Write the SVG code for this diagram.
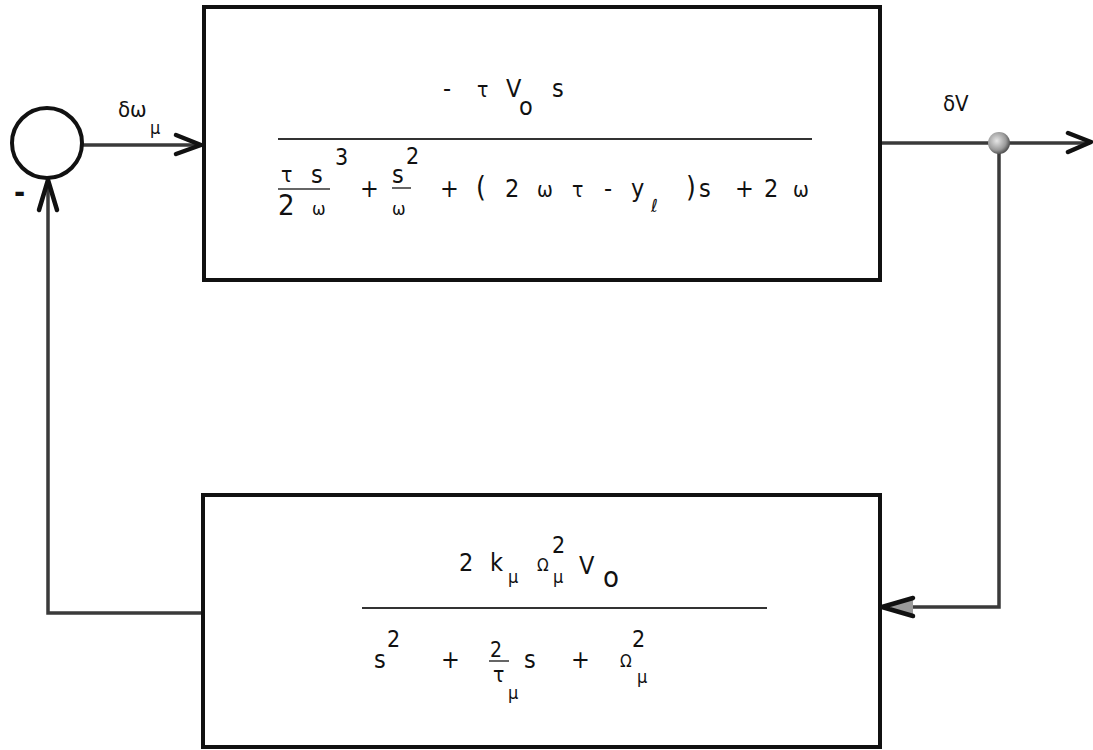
<svg xmlns="http://www.w3.org/2000/svg" width="1093" height="750" viewBox="0 0 1093 750">
<defs>
<style>
.t{font-family:"Liberation Sans Narrow","DejaVu Sans Condensed","Liberation Sans","DejaVu Sans",sans-serif;fill:#111;font-size:25px}
.s{font-size:21px}
.sup{font-size:23px}
.xs{font-size:18px}
.box{fill:none;stroke:#111;stroke-width:4}
.frac{stroke:#333;stroke-width:2}
.sfrac{stroke:#333;stroke-width:1.5}
.wire{fill:none;stroke:#3a3a3a;stroke-width:3.5}
.head{fill:none;stroke:#111;stroke-width:4.5;stroke-linecap:round;stroke-linejoin:round}
</style>
<radialGradient id="ball" cx="0.4" cy="0.4" r="0.6">
<stop offset="0" stop-color="#e6e6e6"/>
<stop offset="0.7" stop-color="#9a9a9a"/>
<stop offset="1" stop-color="#555"/>
</radialGradient>
</defs>
<rect width="1093" height="750" fill="#fff"/>

<g id="connectors">
<line class="wire" x1="82" y1="145" x2="201" y2="145"/>
<polyline class="head" points="176,135 201,145 176,154"/>
<line class="wire" x1="880" y1="143" x2="1090" y2="143"/>
<polyline class="head" points="1068,133 1091,142 1068,152"/>
<polyline class="wire" points="999,152 999,607 884,607"/>
<polygon points="882,607 913,598 913,616" fill="#9a9a9a"/>
<polyline class="head" points="913,598 882,607 913,616"/>
<polyline class="wire" points="203,613 48,613 48,182"/>
<polyline class="head" points="39,210 48,180 57,210"/>
<text class="t" x="118" y="117" style="font-size:22px">δω</text>
<text class="t xs" x="150" y="134">μ</text>
<text class="t" x="943" y="111" style="font-size:22px">δV</text>
</g>

<g id="sum">
<circle cx="47" cy="143" r="35" fill="none" stroke="#111" stroke-width="4"/>
<text class="t" x="14" y="203" style="font-size:30px;font-weight:bold">-</text>
</g>

<g id="junction">
<circle cx="999" cy="143" r="11" fill="url(#ball)"/>
</g>

<g id="forward">
<rect class="box" x="204" y="7" width="676" height="273"/>
<text class="t" y="97"><tspan x="443">-</tspan><tspan x="477" class="s">τ</tspan><tspan x="506">V</tspan><tspan x="552">s</tspan></text>
<text class="t" x="519" y="115">o</text>
<line class="frac" x1="278" y1="139" x2="812" y2="139"/>
<text class="t s" x="281" y="182">τ</text>
<text class="t" x="311" y="183">s</text>
<line class="sfrac" x1="278" y1="189" x2="330" y2="189"/>
<text class="t" x="278" y="215" style="font-size:29px">2</text>
<text class="t xs" x="312" y="215">ω</text>
<text class="t sup" x="335" y="165">3</text>
<text class="t" x="360" y="197">+</text>
<text class="t" x="392" y="183">s</text>
<line class="sfrac" x1="392" y1="188" x2="411" y2="188"/>
<text class="t xs" x="392" y="215">ω</text>
<text class="t sup" x="406" y="164">2</text>
<text class="t" y="197"><tspan x="440">+</tspan><tspan x="476" style="font-size:28px">(</tspan><tspan x="505">2</tspan><tspan x="537" class="s">ω</tspan><tspan x="572" class="s">τ</tspan><tspan x="604">-</tspan><tspan x="631">y</tspan><tspan x="686" style="font-size:28px">)</tspan><tspan x="699">s</tspan><tspan x="735">+</tspan><tspan x="764">2</tspan><tspan x="793" class="s">ω</tspan></text>
<text class="t xs" x="651" y="212">ℓ</text>
</g>

<g id="feedback">
<rect class="box" x="203" y="495" width="677" height="252"/>
<text class="t" y="571"><tspan x="459">2</tspan><tspan x="490">k</tspan></text>
<text class="t xs" x="508" y="583">μ</text>
<text class="t" x="537" y="571" style="font-size:17px">Ω</text>
<text class="t sup" x="552" y="553">2</text>
<text class="t xs" x="553" y="583">μ</text>
<text class="t" x="579" y="574">V</text>
<text class="t" x="603" y="587" style="font-size:29px">o</text>
<line class="frac" x1="362" y1="608" x2="767" y2="608"/>
<text class="t" x="374" y="668">s</text>
<text class="t sup" x="387" y="647">2</text>
<text class="t" x="441" y="668">+</text>
<text class="t s" x="490" y="657">2</text>
<line class="sfrac" x1="489" y1="661" x2="509" y2="661"/>
<text class="t s" x="493" y="682">τ</text>
<text class="t xs" x="508" y="699">μ</text>
<text class="t" x="524" y="668">s</text>
<text class="t" x="571" y="668">+</text>
<text class="t" x="620" y="667" style="font-size:17px">Ω</text>
<text class="t sup" x="632" y="647">2</text>
<text class="t xs" x="637" y="683">μ</text>
</g>
</svg>
